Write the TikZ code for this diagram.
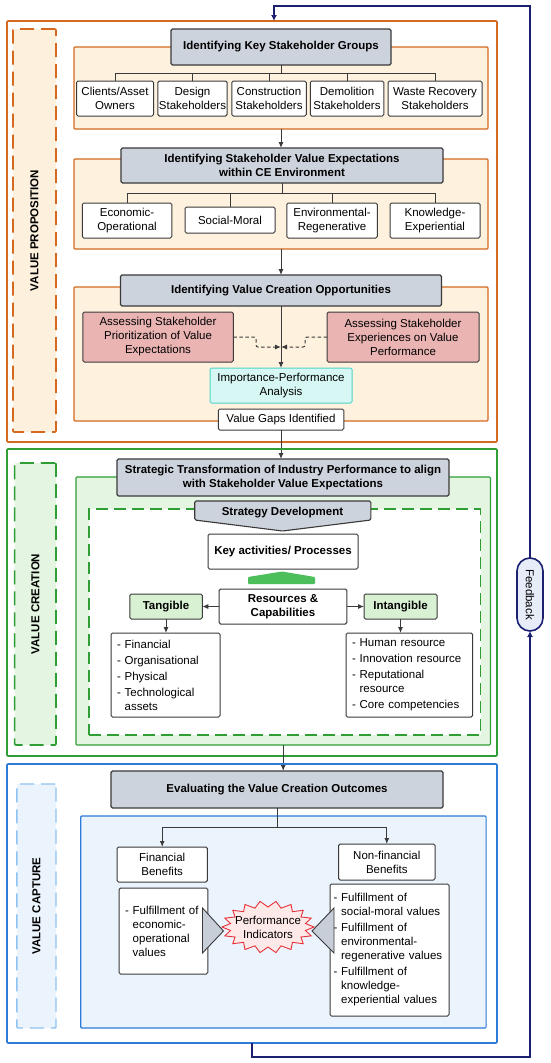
\documentclass[tikz,border=0pt]{standalone}
\usepackage{fontspec}
\setmainfont{Liberation Sans}
\usetikzlibrary{arrows.meta,shapes.misc}
\definecolor{orangeC}{HTML}{D4691F}
\definecolor{orangeF}{HTML}{FEF2DF}
\definecolor{orangeL}{HTML}{FDF1DD}
\definecolor{greenC}{HTML}{2E9E35}
\definecolor{greenF}{HTML}{E4F6E1}
\definecolor{blueC}{HTML}{2C7BD6}
\definecolor{blueF}{HTML}{EBF3FC}
\definecolor{blueD}{HTML}{8FC3F2}
\definecolor{navyC}{HTML}{1B2170}
\definecolor{navyF}{HTML}{E6ECF8}
\definecolor{hdrC}{HTML}{CDD3DC}
\definecolor{lineC}{HTML}{3A3A3A}
\definecolor{pinkC}{HTML}{EAB4B3}
\definecolor{ipaF}{HTML}{D6F7F3}
\definecolor{ipaD}{HTML}{4ED4C6}
\definecolor{tanF}{HTML}{D8F1D3}
\definecolor{garC}{HTML}{4CBF5B}
\definecolor{burstF}{HTML}{FDEAE8}
\definecolor{burstD}{HTML}{E8323A}
\definecolor{triC}{HTML}{C8CED7}
\begin{document}
\begin{tikzpicture}[x=1pt,y=-1pt,
  every node/.style={font=\fontsize{11.5}{14}\selectfont, align=center, inner sep=1pt, outer sep=0pt},
  sz/.style 2 args={minimum width=#1pt, minimum height=#2pt},
  bx/.style={draw=lineC, line width=1pt, rounded corners=1.5pt, fill=white},
  hd/.style={bx, fill=hdrC, line width=1.1pt, font=\fontsize{11.5}{14}\selectfont\bfseries},
  lst/.style={bx, align=left},
  lbl/.style={rotate=90, font=\fontsize{11.5}{14}\selectfont\bfseries},
  frame/.style={draw=#1, line width=1.6pt, rounded corners=1pt},
  inner/.style={draw=#1, line width=1.1pt, rounded corners=1pt},
  ln/.style={draw=lineC, line width=1pt},
  arr/.style={ln, -{Latex[length=6pt,width=5pt]}},
  fbl/.style={draw=navyC, line width=2pt},
]
\useasboundingbox (0,0) rectangle (550,1063);
\fill[white] (0,0) rectangle (550,1063);

% ---------- VALUE PROPOSITION ----------
\node[frame=orangeC, sz={490}{421}] (fO) at (252,231.5) {};
\node[frame=orangeC, dash pattern=on 14pt off 7pt, fill=orangeL, sz={43}{403}] (lO) at (34.5,230.5) {};
\node[lbl] (tO) at (lO.center) {VALUE PROPOSITION};
\node[inner=orangeC, fill=orangeF, sz={414}{82}] (i1) at (281,88) {};
\node[inner=orangeC, fill=orangeF, sz={414}{90}] (i2) at (281,204) {};
\node[inner=orangeC, fill=orangeF, sz={414}{134}] (i3) at (281,354) {};

\node[hd, sz={220}{36}] (h1) at (281,47) {Identifying Key Stakeholder Groups};
\node[bx, sz={77}{35}] (c1) at (115,98.5) {Clients/Asset\\Owners};
\node[bx, sz={69}{35}] (c2) at (192.5,98.5) {Design\\Stakeholders};
\node[bx, sz={74.5}{35}] (c3) at (269,98.5) {Construction\\Stakeholders};
\node[bx, sz={73.5}{35}] (c4) at (347,98.5) {Demolition\\Stakeholders};
\node[bx, sz={94}{35}] (c5) at (435,98.5) {Waste Recovery\\Stakeholders};
\coordinate (t1) at (281,73);
\draw[ln] (h1.south) -- (t1);
\foreach \c in {c1,c2,c3,c4,c5} \draw[ln] (t1) -| (\c.north);
\draw[arr] (i1.south) -- (i1.south |- 0,148);

\node[hd, sz={322}{35}] (h2) at (282,165.5) {Identifying Stakeholder Value Expectations\\within CE Environment};
\node[bx, sz={89.5}{35}] (v1) at (127,220.5) {Economic-\\Operational};
\node[bx, sz={90}{26}] (v2) at (230,220) {Social-Moral};
\node[bx, sz={90.5}{35}] (v3) at (332,220.5) {Environmental-\\Regenerative};
\node[bx, sz={90}{35}] (v4) at (435,220.5) {Knowledge-\\Experiential};
\coordinate (t2) at (282,193);
\draw[ln] (h2.south) -- (t2);
\foreach \c in {v1,v2,v3,v4} \draw[ln] (t2) -| (\c.north);
\draw[arr] (i2.south) -- (i2.south |- 0,275);

\node[hd, sz={321}{31}] (h3) at (281,290.5) {Identifying Value Creation Opportunities};
\node[bx, fill=pinkC, sz={150.5}{50}] (pL) at (158,337) {Assessing Stakeholder\\Prioritization of Value\\Expectations};
\node[bx, fill=pinkC, sz={152}{50}] (pR) at (403,337) {Assessing Stakeholder\\Experiences on Value\\Performance};
\node[bx, draw=ipaD, fill=ipaF, sz={142}{35}] (ipa) at (281,385.5) {Importance-Performance\\Analysis};
\node[bx, sz={125.5}{21}] (vg) at (281,419.5) {Value Gaps Identified};
\draw[arr] (h3.south) -- (ipa.north);
\coordinate (jn) at (281,347);
\draw[arr, dash pattern=on 3.5pt off 2.5pt, rounded corners=2pt] (pL.east) -- (256,337) -- (256,347) -- (jn);
\draw[arr, dash pattern=on 3.5pt off 2.5pt, rounded corners=2pt] (pR.west) -- (305,337) -- (305,347) -- (jn);

% ---------- VALUE CREATION ----------
\draw[arr] (vg.south) -- (vg.south |- 0,459);
\node[frame=greenC, sz={490}{307}] (fG) at (252,602.5) {};
\node[frame=greenC, dash pattern=on 14pt off 7pt, fill=greenF, sz={41.3}{282}] (lG) at (35.3,604) {};
\node[lbl] (tG) at (lG.center) {VALUE CREATION};
\node[inner=greenC, fill=greenF, sz={414.5}{268}] (iG) at (283.2,611) {};
\node[draw=greenC, line width=1.4pt, dash pattern=on 12pt off 6pt, fill=white, sz={391.7}{226}] (dG) at (284.8,622) {};
\node[hd, sz={332}{37}] (h4) at (283,477.5) {Strategic Transformation of Industry Performance to align\\with Stakeholder Value Expectations};
\draw[draw=lineC, line width=1.1pt, fill=hdrC, rounded corners=1.5pt] (194.7,501) -- (370.9,501) -- (370.9,520) -- (282.5,531) -- (194.7,520) -- cycle;
\node[font=\fontsize{11.5}{14}\selectfont\bfseries] (sd) at (282.5,513) {Strategy Development};
\node[bx, sz={150}{35}, font=\fontsize{11.5}{14}\selectfont\bfseries] (ka) at (283,551.5) {Key activities/ Processes};
\fill[garC, rounded corners=1pt] (248,584) -- (248,577) -- (282,571.5) -- (315,577) -- (315,584) -- cycle;
\node[bx, sz={127.7}{35}, font=\fontsize{11.5}{14}\selectfont\bfseries] (rc) at (283,606.5) {Resources \&\\Capabilities};
\node[bx, fill=tanF, sz={72.5}{25}, font=\fontsize{11.5}{14}\selectfont\bfseries] (tg) at (166,606.5) {Tangible};
\node[bx, fill=tanF, sz={73}{25}, font=\fontsize{11.5}{14}\selectfont\bfseries] (itg) at (400.5,606.5) {Intangible};
\draw[arr] (rc.west) -- (tg.east);
\draw[arr] (rc.east) -- (itg.west);
\node[lst, sz={109}{84}, text width=97pt] (tl) at (165.5,675) {- Financial\\[2pt]- Organisational\\[2pt]- Physical\\[2pt]- Technological\\\phantom{- }assets};
\node[lst, sz={126.6}{84}, text width=114.6pt] (il) at (409.3,675) {- Human resource\\[2pt]- Innovation resource\\[2pt]- Reputational\\\phantom{- }resource\\[2pt]- Core competencies};
\draw[arr] (tg.south) -- (tg.south |- tl.north);
\draw[arr] (itg.south) -- (itg.south |- il.north);

% ---------- VALUE CAPTURE ----------
\draw[arr] (iG.south) -- (iG.south |- 0,771);
\node[frame=blueC, sz={490}{279}] (fB) at (252,903.5) {};
\node[draw=blueD, line width=1.4pt, dash pattern=on 14pt off 7pt, fill=blueF, rounded corners=1pt, sz={39.2}{244}] (lB) at (36.4,906) {};
\node[lbl] (tB) at (lB.center) {VALUE CAPTURE};
\node[inner=blueC, fill=blueF, sz={405.3}{212}] (iB) at (283.4,922) {};
\node[hd, sz={332}{37}] (h5) at (277,789.5) {Evaluating the Value Creation Outcomes};
\node[bx, sz={90.4}{35}] (fin) at (162.2,864.5) {Financial\\Benefits};
\node[bx, sz={96.4}{36}] (nfin) at (386.8,862) {Non-financial\\Benefits};
\coordinate (t5) at (277,827);
\draw[ln] (h5.south) -- (t5);
\draw[arr] (t5) -| (fin.north);
\draw[arr] (t5) -| (nfin.north);
\node[lst, sz={88.7}{86}, text width=76.7pt] (fl) at (163.4,931) {- Fulfillment of\\\phantom{- }economic-\\\phantom{- }operational\\\phantom{- }values};
\node[lst, sz={119}{132}, text width=112pt] (nl) at (389.5,950) {- Fulfillment of\\\phantom{- }social-moral values\\[2pt]- Fulfillment of\\\phantom{- }environmental-\\\phantom{- }regenerative values\\[2pt]- Fulfillment of\\\phantom{- }knowledge-\\\phantom{- }experiential values};
\draw[draw=lineC, line width=0.9pt, fill=triC] (202.5,908) -- (223.5,931) -- (202.5,953) -- cycle;
\draw[draw=lineC, line width=0.9pt, fill=triC] (334,908) -- (312,931) -- (334,953) -- cycle;
\path[draw=burstD, fill=burstF, line width=0.9pt] (314,927)
  \foreach \i in {1,...,35} { -- ({268+(42+4*cos(180*\i))*cos(10*\i)},{927+(23+3*cos(180*\i))*sin(10*\i)}) } -- cycle;
\node (pi) at (268,927) {Performance\\Indicators};

% ---------- FEEDBACK ----------
\coordinate (fb1) at (251.6,1043);
\coordinate (fb2) at (251.6,1057);
\coordinate (fb3) at (530,1057);
\coordinate (fb4) at (530,6);
\coordinate (fb5) at (274,6);
\coordinate (fb6) at (274,21);
\node[rounded rectangle, draw=navyC, line width=1.6pt, fill=navyF, rotate=-90, sz={75}{26}] (fb) at (530,594.5) {Feedback};
\draw[fbl, -{Latex[length=6pt,width=6pt]}] (fb1) -- (fb2) -- (fb3) -- (fb.east);
\draw[fbl, -{Latex[length=6pt,width=6pt]}] (fb.west) -- (fb4) -- (fb5) -- (fb6);
\end{tikzpicture}
\end{document}
